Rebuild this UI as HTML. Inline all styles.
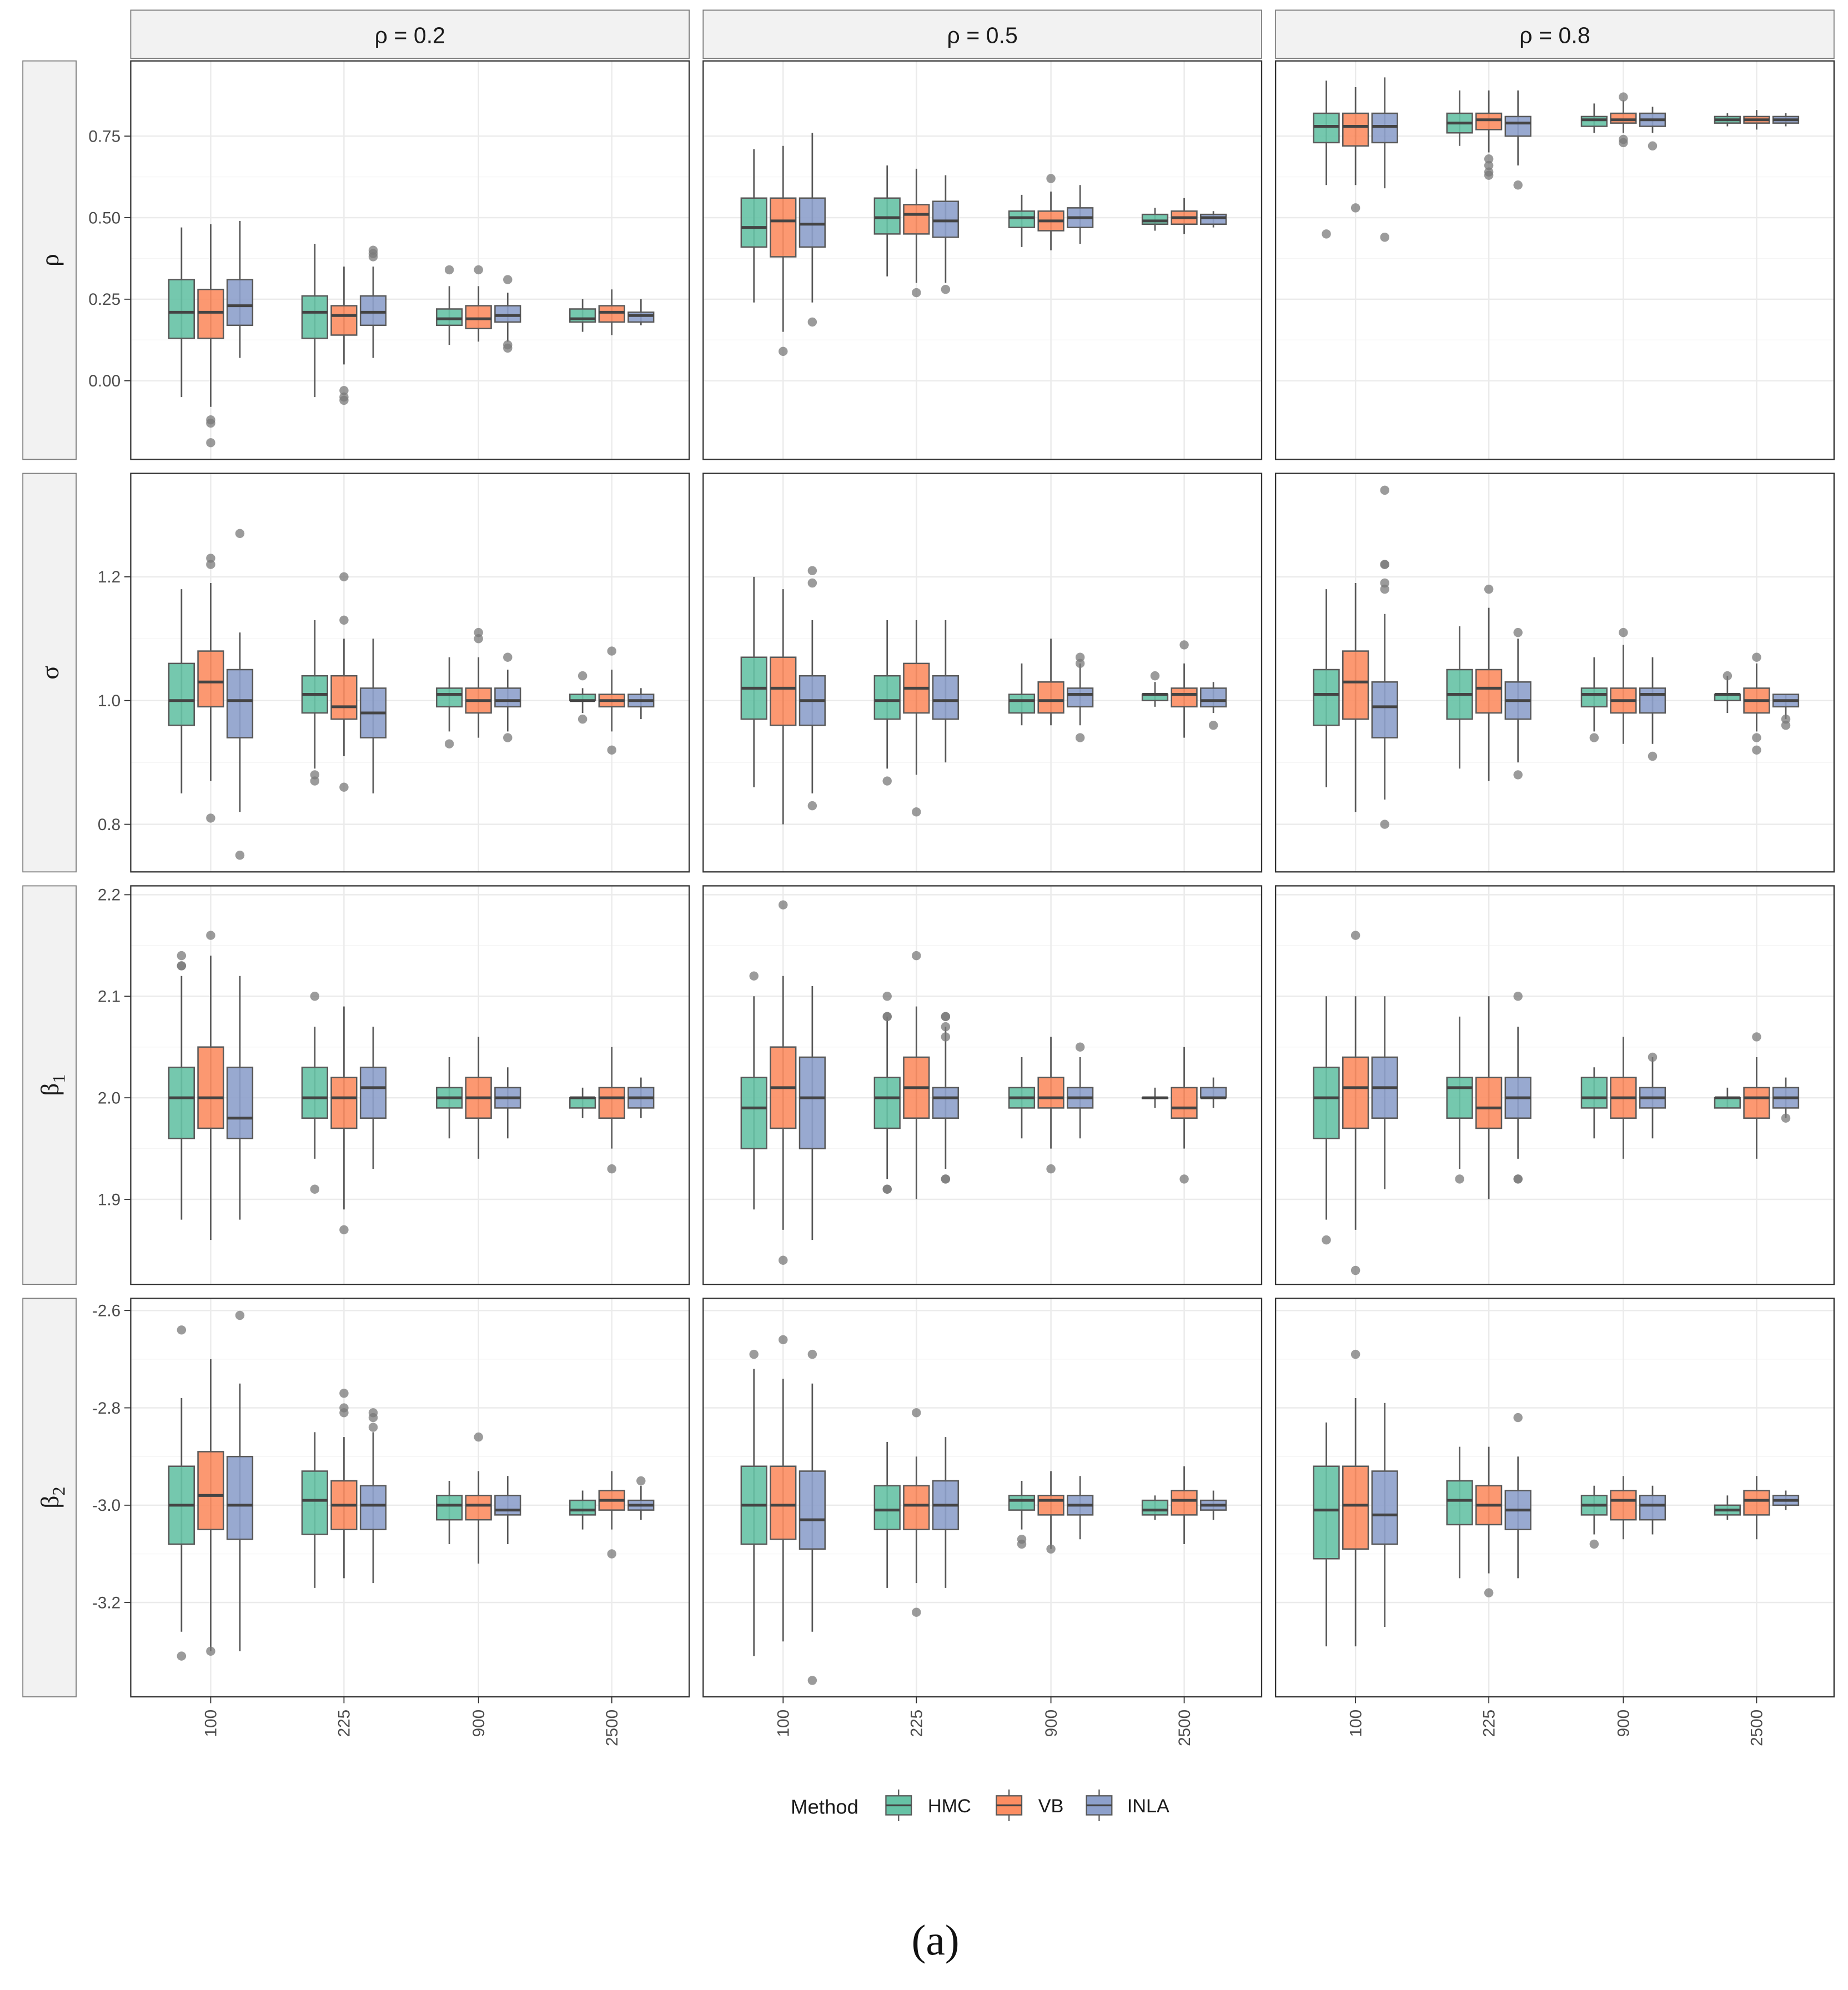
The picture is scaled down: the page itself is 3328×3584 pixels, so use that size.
<!DOCTYPE html>
<html><head><meta charset="utf-8"><style>
html,body{margin:0;padding:0;background:#fff;}
svg{display:block;font-family:"Liberation Sans",sans-serif;}
</style></head><body>
<svg id="chart" width="3328" height="3584" viewBox="0 0 1456 1568" xmlns="http://www.w3.org/2000/svg"></svg>
<script>
const colLabels = ["ρ = 0.2","ρ = 0.5","ρ = 0.8"];
const sampleSizes = ["100","225","900","2500"];
const methods = ["HMC","VB","INLA"];
const methodColors = ["#66c2a5","#fc8d62","#8da0cb"];
// [low whisker, q1, median, q3, high whisker, ...outliers] per [col][group][method]
const rhoStats = [
 [[[-0.05,0.13,0.21,0.31,0.47],[-0.08,0.13,0.21,0.28,0.48,-0.12,-0.13,-0.19],[0.07,0.17,0.23,0.31,0.49]],
  [[-0.05,0.13,0.21,0.26,0.42],[0.05,0.14,0.20,0.23,0.35,-0.03,-0.05,-0.06],[0.07,0.17,0.21,0.26,0.35,0.38,0.39,0.40]],
  [[0.11,0.17,0.19,0.22,0.29,0.34],[0.12,0.16,0.19,0.23,0.29,0.34],[0.12,0.18,0.20,0.23,0.27,0.31,0.11,0.10]],
  [[0.15,0.18,0.19,0.22,0.25],[0.14,0.18,0.21,0.23,0.28],[0.17,0.18,0.20,0.21,0.25]]],
 [[[0.24,0.41,0.47,0.56,0.71],[0.15,0.38,0.49,0.56,0.72,0.09],[0.24,0.41,0.48,0.56,0.76,0.18]],
  [[0.32,0.45,0.50,0.56,0.66],[0.30,0.45,0.51,0.54,0.65,0.27],[0.30,0.44,0.49,0.55,0.63,0.28]],
  [[0.41,0.47,0.50,0.52,0.57],[0.40,0.46,0.49,0.52,0.58,0.62],[0.42,0.47,0.50,0.53,0.60]],
  [[0.46,0.48,0.49,0.51,0.53],[0.45,0.48,0.50,0.52,0.56],[0.47,0.48,0.50,0.51,0.52]]],
 [[[0.60,0.73,0.78,0.82,0.92,0.45],[0.60,0.72,0.78,0.82,0.90,0.53],[0.59,0.73,0.78,0.82,0.93,0.44]],
  [[0.72,0.76,0.79,0.82,0.89],[0.70,0.77,0.80,0.82,0.89,0.68,0.66,0.64,0.63],[0.66,0.75,0.79,0.81,0.89,0.60]],
  [[0.76,0.78,0.80,0.81,0.85],[0.76,0.79,0.80,0.82,0.86,0.87,0.74,0.73],[0.76,0.78,0.80,0.82,0.84,0.72]],
  [[0.78,0.79,0.80,0.81,0.82],[0.77,0.79,0.80,0.81,0.83],[0.78,0.79,0.80,0.81,0.82]]]
];
const sigmaStats = [
 [[[0.85,0.96,1.00,1.06,1.18],[0.87,0.99,1.03,1.08,1.19,1.23,1.22,0.81],[0.82,0.94,1.00,1.05,1.11,1.27,0.75]],
  [[0.89,0.98,1.01,1.04,1.13,0.88,0.87],[0.91,0.97,0.99,1.04,1.10,1.20,1.13,0.86],[0.85,0.94,0.98,1.02,1.10]],
  [[0.95,0.99,1.01,1.02,1.07,0.93],[0.94,0.98,1.00,1.02,1.07,1.11,1.10],[0.95,0.99,1.00,1.02,1.05,1.07,0.94]],
  [[0.98,1.00,1.00,1.01,1.02,1.04,0.97],[0.95,0.99,1.00,1.01,1.05,1.08,0.92],[0.97,0.99,1.00,1.01,1.02]]],
 [[[0.86,0.97,1.02,1.07,1.20],[0.80,0.96,1.02,1.07,1.18],[0.85,0.96,1.00,1.04,1.13,1.21,1.19,0.83]],
  [[0.89,0.97,1.00,1.04,1.13,0.87],[0.88,0.98,1.02,1.06,1.13,0.82],[0.90,0.97,1.00,1.04,1.13]],
  [[0.96,0.98,1.00,1.01,1.06],[0.96,0.98,1.00,1.03,1.10],[0.96,0.99,1.01,1.02,1.06,1.07,1.06,0.94]],
  [[0.99,1.00,1.01,1.01,1.03,1.04],[0.94,0.99,1.01,1.02,1.06,1.09],[0.98,0.99,1.00,1.02,1.03,0.96]]],
 [[[0.86,0.96,1.01,1.05,1.18],[0.82,0.97,1.03,1.08,1.19],[0.84,0.94,0.99,1.03,1.14,1.34,1.22,1.22,1.19,1.18,0.80]],
  [[0.89,0.97,1.01,1.05,1.12],[0.87,0.98,1.02,1.05,1.15,1.18],[0.90,0.97,1.00,1.03,1.10,1.11,0.88]],
  [[0.95,0.99,1.01,1.02,1.07,0.94],[0.93,0.98,1.00,1.02,1.09,1.11],[0.93,0.98,1.01,1.02,1.07,0.91]],
  [[0.98,1.00,1.01,1.01,1.04,1.04],[0.95,0.98,1.00,1.02,1.06,1.07,0.94,0.92],[0.97,0.99,1.00,1.01,1.01,0.97,0.96]]]
];
const beta1Stats = [
 [[[1.88,1.96,2.00,2.03,2.12,2.14,2.13,2.13],[1.86,1.97,2.00,2.05,2.14,2.16],[1.88,1.96,1.98,2.03,2.12]],
  [[1.94,1.98,2.00,2.03,2.07,2.10,1.91],[1.89,1.97,2.00,2.02,2.09,1.87],[1.93,1.98,2.01,2.03,2.07]],
  [[1.96,1.99,2.00,2.01,2.04],[1.94,1.98,2.00,2.02,2.06],[1.96,1.99,2.00,2.01,2.03]],
  [[1.98,1.99,2.00,2.00,2.01],[1.95,1.98,2.00,2.01,2.05,1.93],[1.98,1.99,2.00,2.01,2.02]]],
 [[[1.89,1.95,1.99,2.02,2.10,2.12],[1.87,1.97,2.01,2.05,2.12,2.19,1.84],[1.86,1.95,2.00,2.04,2.11]],
  [[1.92,1.97,2.00,2.02,2.08,2.10,2.08,2.08,1.91,1.91],[1.90,1.98,2.01,2.04,2.09,2.14],[1.93,1.98,2.00,2.01,2.07,2.08,2.08,2.07,2.06,1.92,1.92]],
  [[1.96,1.99,2.00,2.01,2.04],[1.95,1.99,2.00,2.02,2.06,1.93],[1.96,1.99,2.00,2.01,2.04,2.05]],
  [[1.99,2.00,2.00,2.00,2.01],[1.95,1.98,1.99,2.01,2.05,1.92],[1.99,2.00,2.00,2.01,2.02]]],
 [[[1.88,1.96,2.00,2.03,2.10,1.86],[1.87,1.97,2.01,2.04,2.10,2.16,1.83],[1.91,1.98,2.01,2.04,2.10]],
  [[1.93,1.98,2.01,2.02,2.08,1.92],[1.90,1.97,1.99,2.02,2.10],[1.94,1.98,2.00,2.02,2.07,2.10,1.92,1.92]],
  [[1.96,1.99,2.00,2.02,2.03],[1.94,1.98,2.00,2.02,2.06],[1.96,1.99,2.00,2.01,2.04,2.04]],
  [[1.99,1.99,2.00,2.00,2.01],[1.94,1.98,2.00,2.01,2.04,2.06],[1.98,1.99,2.00,2.01,2.02,1.98]]]
];
const beta2Stats = [
 [[[-3.26,-3.08,-3.00,-2.92,-2.78,-2.64,-3.31],[-3.30,-3.05,-2.98,-2.89,-2.70,-3.30],[-3.30,-3.07,-3.00,-2.90,-2.75,-2.61]],
  [[-3.17,-3.06,-2.99,-2.93,-2.85],[-3.15,-3.05,-3.00,-2.95,-2.86,-2.77,-2.80,-2.81],[-3.16,-3.05,-3.00,-2.96,-2.85,-2.81,-2.82,-2.84]],
  [[-3.08,-3.03,-3.00,-2.98,-2.95],[-3.12,-3.03,-3.00,-2.98,-2.93,-2.86],[-3.08,-3.02,-3.01,-2.98,-2.94]],
  [[-3.05,-3.02,-3.01,-2.99,-2.97],[-3.05,-3.01,-2.99,-2.97,-2.93,-3.10],[-3.03,-3.01,-3.00,-2.99,-2.96,-2.95]]],
 [[[-3.31,-3.08,-3.00,-2.92,-2.72,-2.69],[-3.28,-3.07,-3.00,-2.92,-2.74,-2.66],[-3.26,-3.09,-3.03,-2.93,-2.75,-2.69,-3.36]],
  [[-3.17,-3.05,-3.01,-2.96,-2.87],[-3.16,-3.05,-3.00,-2.96,-2.90,-2.81,-3.22],[-3.17,-3.05,-3.00,-2.95,-2.86]],
  [[-3.05,-3.01,-2.99,-2.98,-2.95,-3.08,-3.07],[-3.09,-3.02,-2.99,-2.98,-2.93,-3.09],[-3.07,-3.02,-3.00,-2.98,-2.94]],
  [[-3.03,-3.02,-3.01,-2.99,-2.98],[-3.08,-3.02,-2.99,-2.97,-2.92],[-3.03,-3.01,-3.00,-2.99,-2.97]]],
 [[[-3.29,-3.11,-3.01,-2.92,-2.83],[-3.29,-3.09,-3.00,-2.92,-2.78,-2.69],[-3.25,-3.08,-3.02,-2.93,-2.79]],
  [[-3.15,-3.04,-2.99,-2.95,-2.88],[-3.14,-3.04,-3.00,-2.96,-2.88,-3.18],[-3.15,-3.05,-3.01,-2.97,-2.90,-2.82]],
  [[-3.06,-3.02,-3.00,-2.98,-2.96,-3.08],[-3.07,-3.03,-2.99,-2.97,-2.94],[-3.06,-3.03,-3.00,-2.98,-2.96]],
  [[-3.03,-3.02,-3.01,-3.00,-2.98],[-3.07,-3.02,-2.99,-2.97,-2.94],[-3.01,-3.00,-2.99,-2.98,-2.97]]]
];
const rhoTicks = [0,0.25,0.5,0.75], rhoTickLabels = ["0.00","0.25","0.50","0.75"];
const sigmaTicks = [0.8,1.0,1.2], sigmaTickLabels = ["0.8","1.0","1.2"];
const beta1Ticks = [1.9,2.0,2.1,2.2], beta1TickLabels = ["1.9","2.0","2.1","2.2"];
const beta2Ticks = [-3.2,-3.0,-2.8,-2.6], beta2TickLabels = ["-3.2","-3.0","-2.8","-2.6"];

const svg = document.getElementById('chart');
const NS = "http://www.w3.org/2000/svg";
function mk(tag, attrs, parent){ const e=document.createElementNS(NS,tag); for(const k in attrs) e.setAttribute(k,attrs[k]); (parent||svg).appendChild(e); return e; }

const rows = [
 {stats:rhoStats, ticks:rhoTicks, labels:rhoTickLabels, top:48, scale:v=>300-v*257, name:"rho"},
 {stats:sigmaStats, ticks:sigmaTicks, labels:sigmaTickLabels, top:373, scale:v=>552-(v-1)*487.5, name:"sigma"},
 {stats:beta1Stats, ticks:beta1Ticks, labels:beta1TickLabels, top:698, scale:v=>865-(v-2)*800, name:"beta1"},
 {stats:beta2Stats, ticks:beta2Ticks, labels:beta2TickLabels, top:1023, scale:v=>1186-(v+3)*383.5, name:"beta2"}
];
const panelLeft=[103,554,1005], panelW=440, panelH=314;
const groupOff=[63,168,274,379], methodOff=[-23,0,23], boxW=20;
const xAt=(c,g,m)=>panelLeft[c]+groupOff[g]+methodOff[m];

// column strips
colLabels.forEach((lab,c)=>{
  const g=mk('g',{});
  
  
  mk('rect',{x:panelLeft[c],y:8,width:panelW,height:38,fill:'#f2f2f2',stroke:'#7f7f7f','stroke-width':0.8},g);
  const t=mk('text',{x:panelLeft[c]+panelW/2,y:34,'text-anchor':'middle','font-size':18,fill:'#1a1a1a'},g);
  t.textContent=lab;
});

const rowStripText=[["ρ",""],["σ",""],["β","1"],["β","2"]];
rows.forEach((row,r)=>{
  // row strip
  const sg=mk('g',{});
  
  
  mk('rect',{x:18,y:row.top,width:42,height:panelH,fill:'#f2f2f2',stroke:'#7f7f7f','stroke-width':0.8},sg);
  const cy=row.top+panelH/2;
  const st=mk('text',{x:0,y:0,transform:`translate(46,${cy}) rotate(-90)`,'text-anchor':'middle','font-size':20,'font-family':'"Liberation Serif",serif',fill:'#1a1a1a'},sg);
  st.textContent=rowStripText[r][0];
  if(rowStripText[r][1]){ const sub=mk('tspan',{'font-size':14,dy:5},st); sub.textContent=rowStripText[r][1]; }

  // y tick labels
  row.ticks.forEach((tv,i)=>{
    const t=mk('text',{x:95,y:row.scale(tv)+4.5,'text-anchor':'end','font-size':13,fill:'#4d4d4d'});
    
    
    t.textContent=row.labels[i];
    mk('line',{x1:98,x2:103,y1:row.scale(tv),y2:row.scale(tv),stroke:'#333','stroke-width':0.8});
  });

  for(let c=0;c<3;c++){
    const pg=mk('g',{});
    
    
    const clipId='clip'+r+c;
    const cp=mk('clipPath',{id:clipId},pg);
    mk('rect',{x:panelLeft[c],y:row.top,width:panelW,height:panelH},cp);
    mk('rect',{x:panelLeft[c],y:row.top,width:panelW,height:panelH,fill:'#fff'},pg);
    const inner=mk('g',{'clip-path':`url(#${clipId})`},pg);
    // grid
    row.ticks.forEach((tv,i)=>{
      mk('line',{x1:panelLeft[c],x2:panelLeft[c]+panelW,y1:row.scale(tv),y2:row.scale(tv),stroke:'#ebebeb','stroke-width':1.1},inner);
      if(i<row.ticks.length-1){ const mv=(tv+row.ticks[i+1])/2;
        mk('line',{x1:panelLeft[c],x2:panelLeft[c]+panelW,y1:row.scale(mv),y2:row.scale(mv),stroke:'#f5f5f5','stroke-width':0.6},inner);}
    });
    groupOff.forEach((go,g)=>{
      mk('line',{x1:panelLeft[c]+go,x2:panelLeft[c]+go,y1:row.top,y2:row.top+panelH,stroke:'#ebebeb','stroke-width':1.1},inner);
    });
    // boxes
    for(let g=0;g<4;g++){
      for(let m=0;m<3;m++){
        const s=row.stats[c][g][m];
        const x=xAt(c,g,m);
        const bg=mk('g',{},inner);
        
        
        mk('line',{x1:x,x2:x,y1:row.scale(s[0]),y2:row.scale(s[4]),stroke:'#595959','stroke-width':1.2},bg);
        const y1=row.scale(s[3]), y2=row.scale(s[1]);
        mk('rect',{x:x-boxW/2,y:y1,width:boxW,height:Math.max(0.5,y2-y1),fill:methodColors[m],'fill-opacity':0.9,stroke:'#595959','stroke-width':1.1},bg);
        mk('line',{x1:x-boxW/2,x2:x+boxW/2,y1:row.scale(s[2]),y2:row.scale(s[2]),stroke:'#444','stroke-width':2.2},bg);
        for(let k=5;k<s.length;k++){
          mk('circle',{cx:x,cy:row.scale(s[k]),r:3.6,fill:'#7a7a7a','fill-opacity':0.75},bg);
        }
      }
    }
    mk('rect',{x:panelLeft[c],y:row.top,width:panelW,height:panelH,fill:'none',stroke:'#333','stroke-width':1},pg);
  }
});

// x ticks
for(let c=0;c<3;c++){
  sampleSizes.forEach((lab,g)=>{
    const x=panelLeft[c]+groupOff[g];
    mk('line',{x1:x,x2:x,y1:1337,y2:1342,stroke:'#333','stroke-width':0.8});
    const t=mk('text',{x:0,y:0,transform:`translate(${x+4.5},1347) rotate(-90)`,'text-anchor':'end','font-size':13,fill:'#4d4d4d'});
    
    
    t.textContent=lab;
  });
}

// legend
const lg=mk('g',{});


const lt=mk('text',{x:623,y:1429,'font-size':16,fill:'#1a1a1a'},lg); lt.textContent="Method";
const keyX=[697,784,855], labX=[731,818,888];
methods.forEach((m,i)=>{
  const eg=mk('g',{},lg);
  
  
  mk('line',{x1:keyX[i]+11,x2:keyX[i]+11,y1:1410,y2:1435,stroke:'#595959','stroke-width':1},eg);
  mk('rect',{x:keyX[i]+1,y:1415,width:20,height:15,fill:methodColors[m==="HMC"?0:m==="VB"?1:2],stroke:'#595959','stroke-width':1},eg);
  mk('line',{x1:keyX[i]+1,x2:keyX[i]+21,y1:1422.5,y2:1422.5,stroke:'#444','stroke-width':1.5},eg);
  const t=mk('text',{x:labX[i],y:1428,'font-size':15,fill:'#1a1a1a'},eg); t.textContent=m;
});

const cap=mk('text',{x:737,y:1540,'text-anchor':'middle','font-size':34,'font-family':'"Liberation Serif",serif',fill:'#111'});


cap.textContent="(a)";
</script>
</body></html>
